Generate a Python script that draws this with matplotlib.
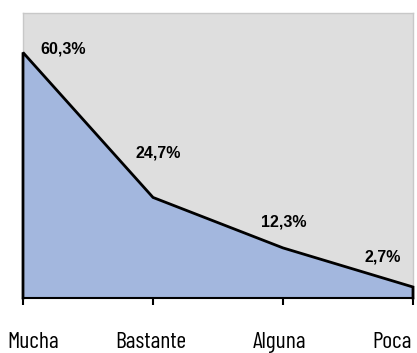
import matplotlib
matplotlib.use("Agg")
import matplotlib.pyplot as plt

categories = ["Mucha", "Bastante", "Alguna", "Poca"]
values = [60.3, 24.7, 12.3, 2.7]
labels = ["60,3%", "24,7%", "12,3%", "2,7%"]

# label offsets in pixels from each point
label_offsets = [(40, 3), (5, 44), (1, 26), (-30, 30)]
# category names are nudged inwards at the two ends
cat_offsets = [10, -2, -4, -21]

narrow = ["Arial Narrow", "Barlow Condensed", "Archivo Narrow", "DejaVu Sans"]

fig = plt.figure(figsize=(4.17, 3.53), dpi=100)
ax = fig.add_axes([23 / 417, 1 - 298 / 353, 390 / 417, 285 / 353])

x = list(range(len(categories)))
ax.set_facecolor("#dedede")
ax.fill_between(x, values, 0, color="#a3b7de", zorder=2)
ax.plot([x[0]] + x + [x[-1]], [0] + values + [0], color="black", lw=2,
        solid_joinstyle="miter", zorder=3, clip_on=False)

for xi, v, lab, (dx, dy) in zip(x, values, labels, label_offsets):
    ax.annotate(lab, (xi, v), xytext=(dx, dy), textcoords="offset pixels",
                ha="center", va="center", fontsize=11.5, fontweight="bold",
                family=["Liberation Sans", "DejaVu Sans"], zorder=4)

for xi, cat, dx in zip(x, categories, cat_offsets):
    ax.annotate(cat, (xi, 0), xycoords=("data", "axes fraction"),
                xytext=(dx, -50), textcoords="offset pixels",
                ha="center", va="baseline", fontsize=17, fontweight="normal",
                family=narrow, annotation_clip=False)

ax.set_xlim(0, 3)
ax.set_ylim(0, 70)
ax.set_yticks([])
ax.set_xticks(x)
ax.set_xticklabels([])
ax.tick_params(axis="x", length=5, width=1.5, direction="out")

for side in ["top", "right", "left"]:
    ax.spines[side].set_color("#c8c8c8")
    ax.spines[side].set_linewidth(1)
ax.spines["bottom"].set_color("black")
ax.spines["bottom"].set_linewidth(1.5)
ax.spines["bottom"].set_zorder(5)

fig.savefig("out.png", dpi=100)
